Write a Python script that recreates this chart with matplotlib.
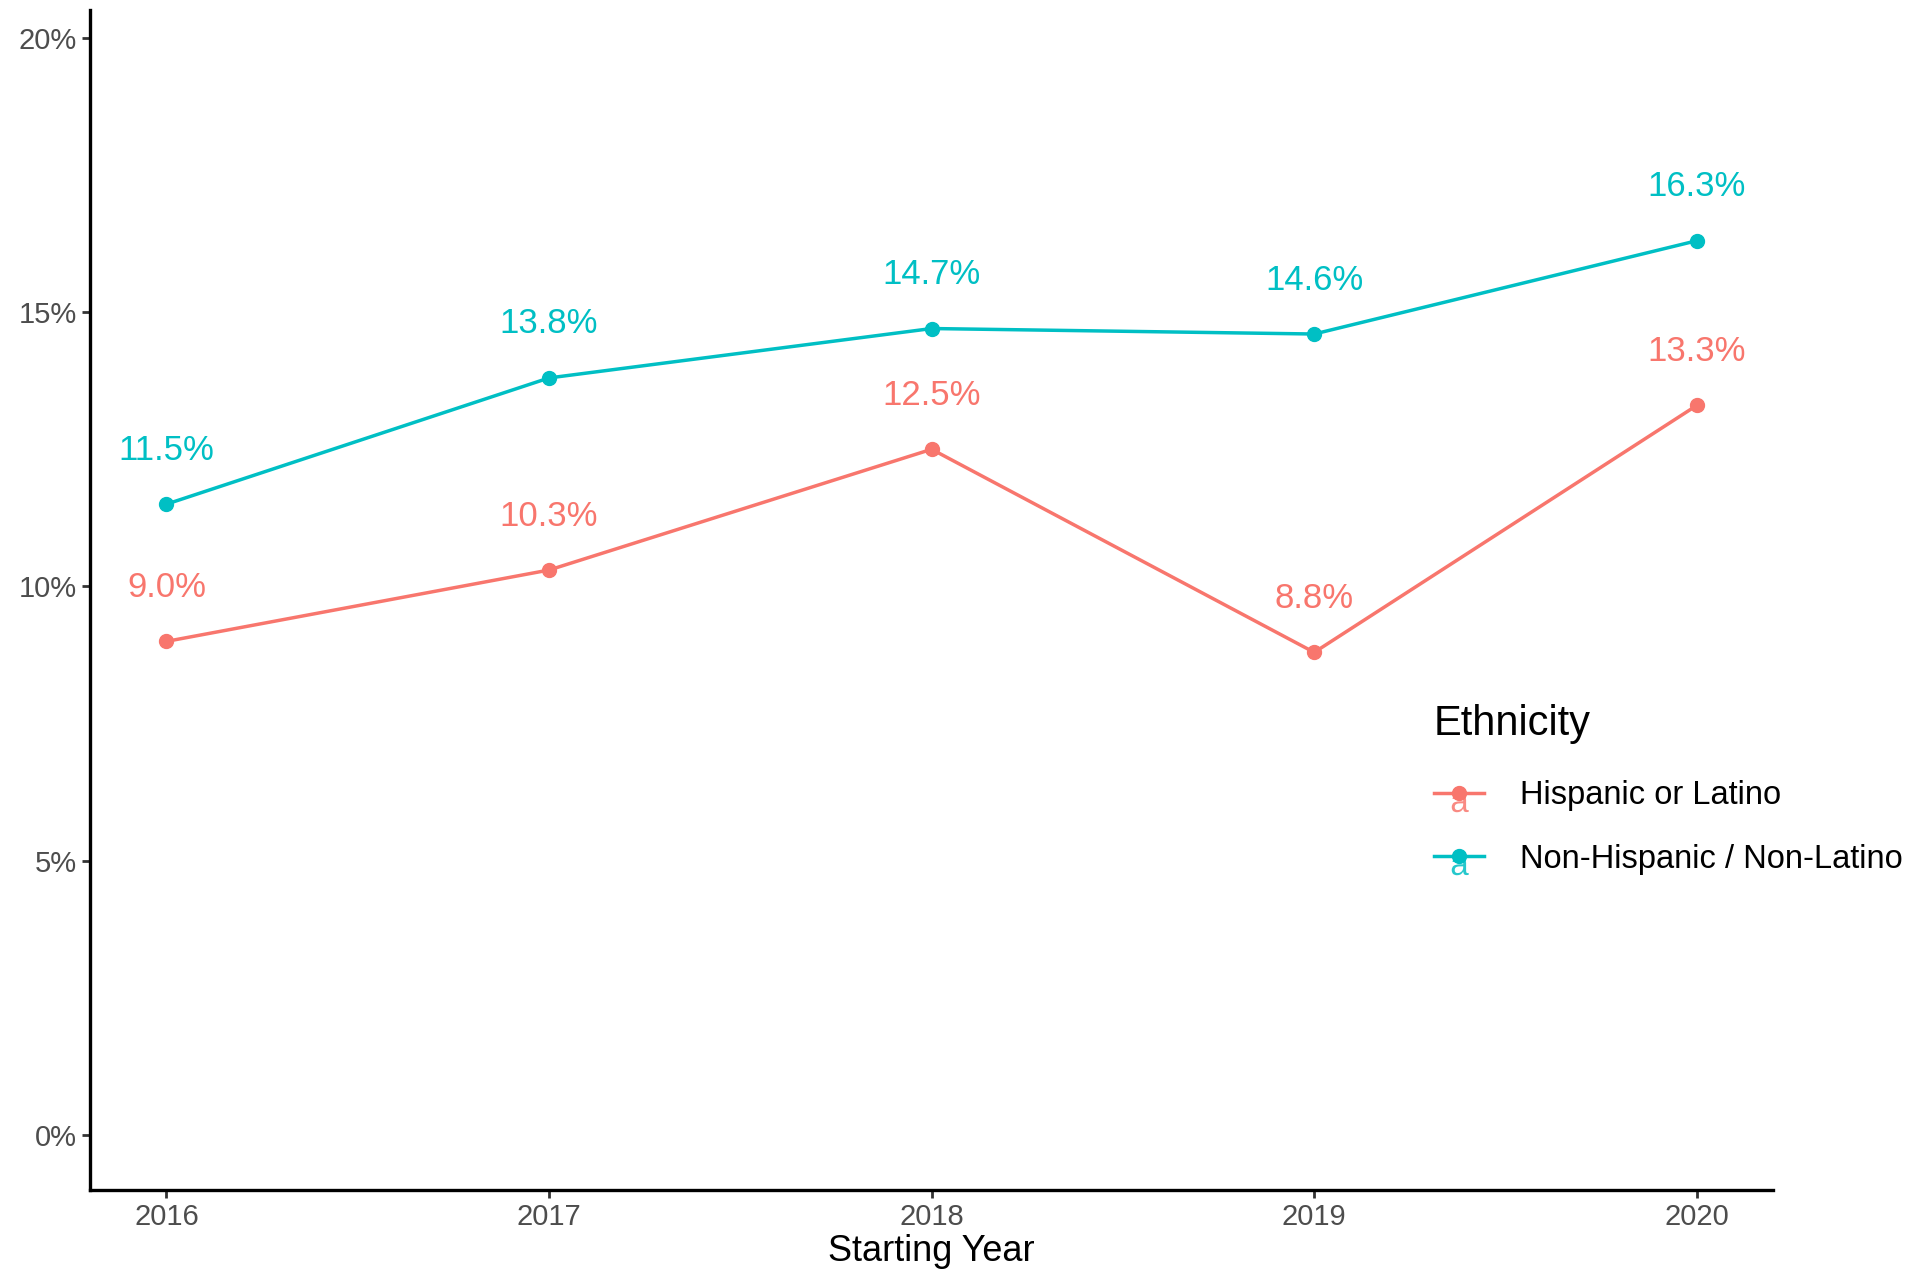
import matplotlib
matplotlib.use("Agg")
import matplotlib.pyplot as plt
from matplotlib.lines import Line2D
from matplotlib.legend_handler import HandlerTuple
from matplotlib.ticker import FuncFormatter
from matplotlib.textpath import TextPath
from matplotlib.path import Path
from matplotlib.font_manager import FontProperties

plt.rcParams['font.family'] = ['Liberation Sans', 'DejaVu Sans']

years = [2016, 2017, 2018, 2019, 2020]
hispanic = [9.0, 10.3, 12.5, 8.8, 13.3]
non_hispanic = [11.5, 13.8, 14.7, 14.6, 16.3]
series_names = ['Hispanic or Latino', 'Non-Hispanic / Non-Latino']
colors = ['#F8766D', '#00BFC4']
y_ticks = [0, 5, 10, 15, 20]

# little "a" key glyph (like ggplot's text key), sitting below the centre
tp = TextPath((0, 0), 'a', size=1, prop=FontProperties(family='Liberation Sans'))
v = tp.vertices.copy()
v[:, 0] -= (v[:, 0].min() + v[:, 0].max()) / 2
v[:, 1] -= v[:, 1].max() + 0.02
a_marker = Path(v, tp.codes)

fig = plt.figure(figsize=(19.13, 12.73), dpi=100)
ax = fig.add_axes([0.047, 0.065, 0.880, 0.927])

handles = []
for vals, name, col in zip([hispanic, non_hispanic], series_names, colors):
    ax.plot(years, vals, color=col, lw=2.5, marker='o', ms=10, zorder=3)
    for x, y in zip(years, vals):
        ax.annotate(f'{y:.1f}%', (x, y), xytext=(0, 27), textcoords='offset points',
                    ha='center', va='bottom', fontsize=25, color=col)
    h1 = Line2D([], [], color=col, lw=2.5, marker='o', ms=10)
    h2 = Line2D([], [], color=col, lw=0, marker=a_marker, ms=27, mew=0, alpha=0.85)
    handles.append((h1, h2))

ax.set_xlim(2015.8, 2020.2)
ax.set_ylim(-1.0, 20.5)
ax.set_xticks(years)
ax.set_yticks(y_ticks)
ax.yaxis.set_major_formatter(FuncFormatter(lambda v, p: f'{v:.0f}%'))
ax.tick_params(labelsize=21, labelcolor='#4D4D4D', length=6, width=2, color='#333333')
ax.set_xlabel('Starting Year', fontsize=26, labelpad=2)

for s in ['top', 'right']:
    ax.spines[s].set_visible(False)
for s in ['left', 'bottom']:
    ax.spines[s].set_linewidth(2.4)
    ax.spines[s].set_color('black')

leg = fig.legend(handles, series_names, loc='upper left', bbox_to_anchor=(0.734, 0.47),
                 frameon=False, fontsize=23.5, title='Ethnicity', title_fontsize=30,
                 handlelength=1.55, handletextpad=1.1, labelspacing=1.0,
                 handler_map={tuple: HandlerTuple(ndivide=1)})
leg._legend_box.align = 'left'
leg._legend_box.sep = 26

fig.savefig('out.png', dpi=100)
